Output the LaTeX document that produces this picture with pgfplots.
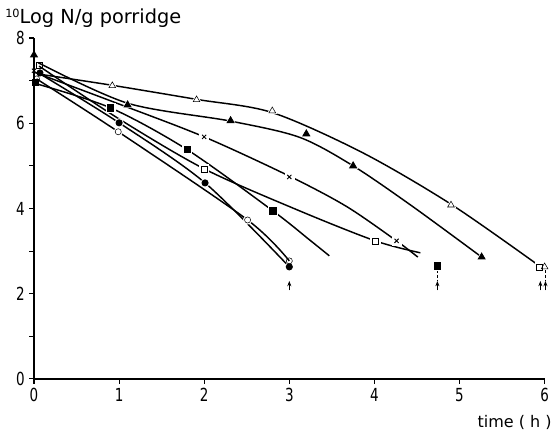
\documentclass[border=0pt]{standalone}
\usepackage{fontspec}
\setmainfont{DejaVu Sans}
\newfontfamily\tickfont[FakeStretch=0.75]{DejaVu Sans}
\usepackage{pgfplots}
\pgfplotsset{compat=1.18}
\usetikzlibrary{arrows.meta}

\begin{document}
\begin{tikzpicture}
  \pgfplotsset{
    curve/.style={black, line width=1.1pt, smooth, mark=none},
    halo/.style={only marks, white, mark options={draw=white, fill=white}},
    pts/.style={only marks, black, mark options={line width=0.7pt}},
    stick/.style={black, line width=0.6pt, dash pattern=on 2pt off 1.5pt},
    down/.style={black, line width=0.7pt, -{Stealth[length=4pt, width=3pt]}},
  }
  \begin{axis}[
      name=ax,
      scale only axis, width=383pt, height=255.75pt,
      xmin=0, xmax=6, ymin=0, ymax=8,
      axis lines=left, axis line style={-, line width=0.9pt},
      xtick={0,...,6}, ytick={0,...,8},
      yticklabels={0,,2,,4,,6,,8},
      tick align=outside, major tick length=3.5pt,
      tick style={line width=0.8pt, black},
      /pgf/number format/assume math mode=true,
      tick label style={font=\tickfont\fontsize{13.5}{14}\selectfont},
      clip=false,
    ]
    % fitted curves
    \addplot[curve] coordinates {(0.1,7.14)(0.92,6.89)(1.91,6.56)(2.8,6.25)(3.86,5.31)(4.9,4.1)(5.94,2.65)};
    \addplot[curve] coordinates {(0.05,7.42)(1.1,6.47)(2.31,6.05)(3.12,5.67)(3.75,5.0)(4.44,4.06)(5.26,2.86)};
    \addplot[curve] coordinates {(0,7.2)(1.0,6.45)(2.0,5.68)(3.0,4.76)(3.67,4.05)(4.26,3.24)(4.51,2.86)};
    \addplot[curve] coordinates {(0.06,7.34)(1.0,6.1)(2.0,4.93)(3.09,3.97)(4.01,3.24)(4.54,2.96)};
    \addplot[curve] coordinates {(0.02,6.93)(0.9,6.36)(1.8,5.38)(2.81,3.94)(3.24,3.26)(3.47,2.89)};
    \addplot[curve] coordinates {(0.07,7.16)(1.0,6.01)(2.01,4.6)(3.0,2.63)};
    \addplot[curve] coordinates {(0.03,7.04)(0.99,5.8)(2.51,3.73)(3.0,2.77)};

    % white gaps round the marks
    \addplot[halo, mark=triangle*, mark size=4.2pt] coordinates {(0.92,6.88)(1.91,6.55)(2.8,6.29)(4.9,4.08)(6.0,2.63)
      (1.1,6.43)(2.31,6.06)(3.2,5.75)(3.75,5.0)(5.26,2.86)};
    \addplot[halo, mark=square*, mark size=3.4pt] coordinates {(0.9,6.36)(1.8,5.38)(2.81,3.94)(4.74,2.65)
      (2.0,4.93)(4.01,3.24)(5.94,2.63)(2.0,5.68)(3.0,4.74)(4.26,3.24)};
    \addplot[halo, mark=*, mark size=3.2pt] coordinates {(1.0,6.01)(2.01,4.6)(3.0,2.63)(0.99,5.8)(2.51,3.73)};

    % open triangle
    \addplot[pts, mark=triangle, mark size=2.9pt, mark options={fill=white}] coordinates {(0.92,6.88)(1.91,6.55)(2.8,6.29)(4.9,4.08)(6.0,2.63)};
    % filled triangle
    \addplot[pts, mark=triangle*, mark size=2.9pt] coordinates {(0,7.6)(1.1,6.43)(2.31,6.06)(3.2,5.75)(3.75,5.0)(5.26,2.86)};
    % cross
    \addplot[pts, mark=x, mark size=2.2pt] coordinates {(0,7.23)(2.0,5.68)(3.0,4.74)(4.26,3.24)};
    % filled square
    \addplot[pts, mark=square*, mark size=2.4pt] coordinates {(0.02,6.95)(0.9,6.36)(1.8,5.38)(2.81,3.94)(4.74,2.65)};
    % open square
    \addplot[pts, mark=square, mark size=2.3pt, mark options={fill=white}] coordinates {(0.06,7.37)(2.0,4.93)(4.01,3.24)(5.94,2.63)};
    % filled circle
    \addplot[pts, mark=*, mark size=2.3pt] coordinates {(0.07,7.18)(1.0,6.01)(2.01,4.6)(3.0,2.63)};
    % open circle
    \addplot[pts, mark=o, mark size=2.3pt, mark options={fill=white}] coordinates {(0.03,7.04)(0.99,5.8)(2.51,3.73)(3.0,2.77)};

    % below detection
    \addplot[stick] coordinates {(4.74,2.55)(4.74,2.32)};
    \addplot[stick] coordinates {(6.01,2.55)(6.01,2.32)};
    \addplot[down] coordinates {(3.0,2.08)(3.0,2.3)};
    \addplot[down] coordinates {(4.74,2.08)(4.74,2.3)};
    \addplot[down] coordinates {(5.95,2.08)(5.95,2.3)};
    \addplot[down] coordinates {(6.01,2.08)(6.01,2.3)};

    \node[anchor=base west, inner sep=0pt, font=\fontsize{14.5}{16}\selectfont]
      at ([shift={(-21.75pt,10.5pt)}]rel axis cs:0,1)
      {\raisebox{0.6ex}{\fontsize{8.5}{9}\selectfont 10}Log N/g porridge};
    \node[anchor=base east, inner sep=0pt, font=\fontsize{12}{14}\selectfont]
      at ([shift={(5.5pt,-36.75pt)}]rel axis cs:1,0) {time ( h )};
  \end{axis}
  \pgfresetboundingbox
  \path ([shift={(-25.5pt,-39pt)}]ax.south west) rectangle ([shift={(6.3pt,28.5pt)}]ax.north east);
\end{tikzpicture}
\end{document}
